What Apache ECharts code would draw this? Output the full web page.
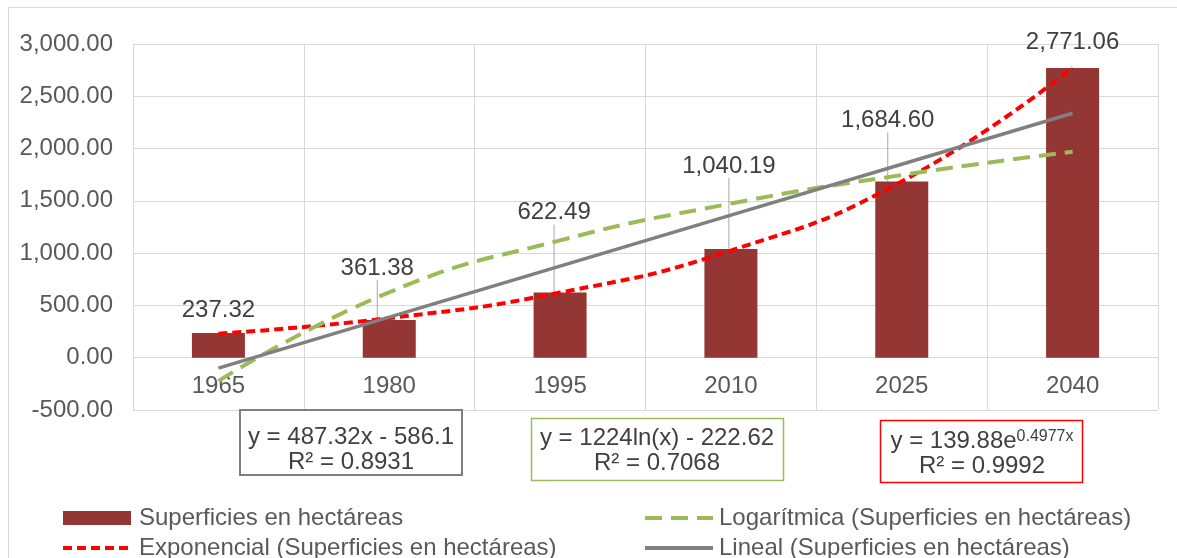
<!DOCTYPE html>
<html><head><meta charset="utf-8">
<script src="https://cdn.jsdelivr.net/npm/echarts@6/dist/echarts.min.js"></script>
<style>html,body{margin:0;padding:0;background:#fff}#c{width:1177px;height:558px}</style>
</head><body><div id="c"></div>
<script>
const categories = ['1965', '1980', '1995', '2010', '2025', '2040'];
const superficies = [237.32, 361.38, 622.49, 1040.19, 1684.60, 2771.06];
const tendLineal = [-99, 388, 876, 1363, 1850, 2338];
const tendLogaritmica = [-223, 626, 1122, 1474, 1747, 1970];
const tendExponencial = [230, 379, 623, 1025, 1686, 2773];
const yMin = -500, yMax = 3000, yInterval = 500;
const seriesNames = [
  'Superficies en hectáreas',
  'Logarítmica (Superficies en hectáreas)',
  'Exponencial (Superficies en hectáreas)',
  'Lineal (Superficies en hectáreas)'
];
const eqLineal = ['y = 487.32x - 586.1', 'R² = 0.8931'];
const eqLog = ['y = 1224ln(x) - 222.62', 'R² = 0.7068'];
const eqExp = ['y = 139.88e', '0.4977x', 'R² = 0.9992'];

const FONT = '"Liberation Sans", Arial, sans-serif';
const fmt = v => v.toLocaleString('en-US', {minimumFractionDigits: 2, maximumFractionDigits: 2});

const chart = echarts.init(document.getElementById('c'));
const labelOffsets = [[0, 0], [-12, -29], [-6, -57], [-2, -60], [-14, -38], [0, -3]];

function eqText(x, y, text) {
  return {type: 'text', x: x, y: y, z: 11,
    style: {text: text, fill: '#404040', font: '24px ' + FONT, align: 'center', verticalAlign: 'middle'}};
}
const hideSym = {opacity: 0};
const legendText = {fontSize: 24, color: '#595959', fontFamily: FONT, lineHeight: 24};

chart.setOption({
  animation: false,
  textStyle: {fontFamily: FONT},
  grid: {left: 133, right: 19, top: 44, bottom: 148, containLabel: false},
  legend: [
    {left: 61, top: 506, height: 60, padding: 0, orient: 'vertical', itemWidth: 68, itemHeight: 14, itemGap: 6,
     lineStyle: {width: 4},
     data: [{name: seriesNames[0], icon: 'rect'}, {name: seriesNames[2], itemStyle: hideSym}],
     textStyle: Object.assign({padding: [0, 0, 0, 3]}, legendText)},
    {left: 643, top: 506, height: 60, padding: 0, orient: 'vertical', itemWidth: 68, itemHeight: 14, itemGap: 6,
     lineStyle: {width: 4},
     data: [{name: seriesNames[1], itemStyle: hideSym}, {name: seriesNames[3], itemStyle: hideSym}],
     textStyle: Object.assign({padding: [0, 0, 0, 1]}, legendText)}
  ],
  xAxis: {
    type: 'category', data: categories, offset: -52,
    axisLine: {onZero: false, show: false},
    axisTick: {show: false},
    axisLabel: {fontSize: 24, color: '#595959', margin: 16, fontFamily: FONT},
    splitLine: {show: true, lineStyle: {color: '#d9d9d9', width: 1}}
  },
  yAxis: {
    type: 'value', min: yMin, max: yMax, interval: yInterval,
    axisLine: {show: false}, axisTick: {show: false},
    axisLabel: {fontSize: 24, color: '#595959', margin: 20, fontFamily: FONT, formatter: fmt},
    splitLine: {lineStyle: {color: '#d9d9d9', width: 1}}
  },
  series: [
    {
      name: seriesNames[0], type: 'bar', barWidth: 53,
      itemStyle: {color: '#943634'},
      data: superficies.map((v, i) => ({value: v, labelLine: {show: i > 0 && i < 5}})),
      label: {show: true, position: 'top', distance: 11, fontSize: 24, color: '#404040',
              fontFamily: FONT, formatter: p => fmt(p.value)},
      labelLine: {show: true, lineStyle: {color: '#a6a6a6', width: 1}},
      labelLayout: p => ({dx: labelOffsets[p.dataIndex][0], dy: labelOffsets[p.dataIndex][1]}),
      z: 2
    },
    {
      name: seriesNames[2], type: 'line', data: tendExponencial, smooth: 0.5, symbol: 'none',
      lineStyle: {color: '#ff0000', width: 4, type: [9, 5]}, itemStyle: {color: '#ff0000'}, z: 3
    },
    {
      name: seriesNames[1], type: 'line', data: tendLogaritmica, smooth: 0.5, symbol: 'none',
      lineStyle: {color: '#9bbb59', width: 4, type: [17, 9]}, itemStyle: {color: '#9bbb59'}, z: 4
    },
    {
      name: seriesNames[3], type: 'line', data: tendLineal, symbol: 'none',
      lineStyle: {color: '#808080', width: 3.5}, itemStyle: {color: '#808080'}, z: 5
    }
  ],
  graphic: [
    {type: 'rect', z: -1, silent: true, shape: {x: 8.5, y: 7.5, width: 1300, height: 700},
     style: {fill: 'none', stroke: '#d9d9d9', lineWidth: 1}},
    {type: 'rect', z: 10, shape: {x: 240, y: 410, width: 222, height: 65},
     style: {fill: '#fff', stroke: '#7f7f7f', lineWidth: 2}},
    eqText(351, 437, eqLineal[0]),
    eqText(351, 462, eqLineal[1]),
    {type: 'rect', z: 10, shape: {x: 531.5, y: 418.5, width: 252, height: 62},
     style: {fill: '#fff', stroke: '#9bbb59', lineWidth: 1.5}},
    eqText(657, 438, eqLog[0]),
    eqText(657, 463, eqLog[1]),
    {type: 'rect', z: 10, shape: {x: 880.5, y: 420.5, width: 202, height: 62},
     style: {fill: '#fff', stroke: '#ff0000', lineWidth: 1.5}},
    {type: 'text', x: 982, y: 441, z: 11,
     style: {text: '{n|' + eqExp[0] + '}{s|' + eqExp[1] + '}', align: 'center', verticalAlign: 'middle',
       rich: {n: {fontSize: 24, fontFamily: FONT, fill: '#404040'},
              s: {fontSize: 16, fontFamily: FONT, fill: '#404040', verticalAlign: 'top'}}}},
    eqText(982, 466, eqExp[2])
  ]
});
</script></body></html>
